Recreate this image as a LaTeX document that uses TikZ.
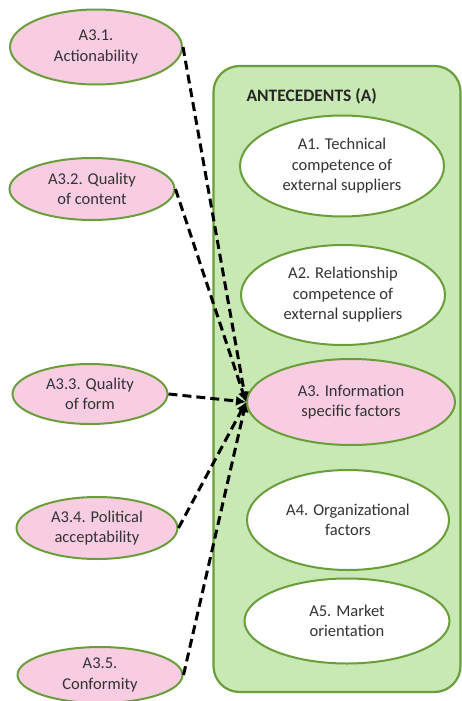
\documentclass[tikz,border=0pt]{standalone}
\usepackage{fontspec}
\setmainfont{Carlito}
\usetikzlibrary{shapes.geometric,arrows.meta}
\definecolor{pinkfill}{HTML}{F8CDE1}
\definecolor{greenfill}{HTML}{C8E8B4}
\definecolor{greenline}{HTML}{6A9E3A}
\tikzset{
  ell/.style={ellipse, draw=greenline, line width=2pt, inner sep=0pt, align=center, font=\fontsize{16.5}{20.5}\selectfont, text=black!80},
  pinkell/.style={ell, fill=pinkfill},
  whiteell/.style={ell, fill=white},
  dasharrow/.style={draw=black, line width=3pt, dash pattern=on 9pt off 5pt, -{Latex[length=10pt,width=10pt]}}
}
\begin{document}
\begin{tikzpicture}[x=1pt,y=-1pt]
\useasboundingbox (0,0) rectangle (462,701);
\node[draw=greenline, fill=greenfill, line width=2.2pt, rounded corners=26pt, minimum width=247pt, minimum height=626pt, inner sep=0pt] (box) at (337,379) {};
\node[anchor=west, font=\fontsize{17.5}{20}\selectfont\bfseries, text=black!85] (title) at (243,96) {ANTECEDENTS (A)};
\node[whiteell, minimum width=204pt, minimum height=101pt] (a1) at (342,166) {A1. Technical\\competence of\\external suppliers};
\node[whiteell, minimum width=204pt, minimum height=100pt] (a2) at (343,295) {A2. Relationship\\competence of\\external suppliers};
\node[pinkell, minimum width=208pt, minimum height=86pt] (a3) at (351,402) {A3. Information\\specific factors};
\node[whiteell, minimum width=202pt, minimum height=100pt] (a4) at (348,520) {A4. Organizational\\factors};
\node[whiteell, minimum width=205pt, minimum height=85pt] (a5) at (347,621) {A5. Market\\orientation};
\node[pinkell, minimum width=172pt, minimum height=75pt] (b1) at (96,47) {A3.1.\\Actionability};
\node[pinkell, minimum width=165pt, minimum height=62pt] (b2) at (92,189) {A3.2. Quality\\of content};
\node[pinkell, minimum width=155pt, minimum height=60pt] (b3) at (90,394) {A3.3. Quality\\of form};
\node[pinkell, minimum width=161pt, minimum height=62pt] (b4) at (97,528) {A3.4. Political\\acceptability};
\node[pinkell, minimum width=165pt, minimum height=56pt] (b5) at (100,675) {A3.5.\\Conformity};
\coordinate (tip) at (a3.west);
\draw[dasharrow] (b1.east) -- (tip);
\draw[dasharrow] (b2.east) -- (tip);
\draw[dasharrow] (b3.east) -- (tip);
\draw[dasharrow] (b4.east) -- (tip);
\draw[dasharrow] (b5.east) -- (tip);
\end{tikzpicture}
\end{document}
